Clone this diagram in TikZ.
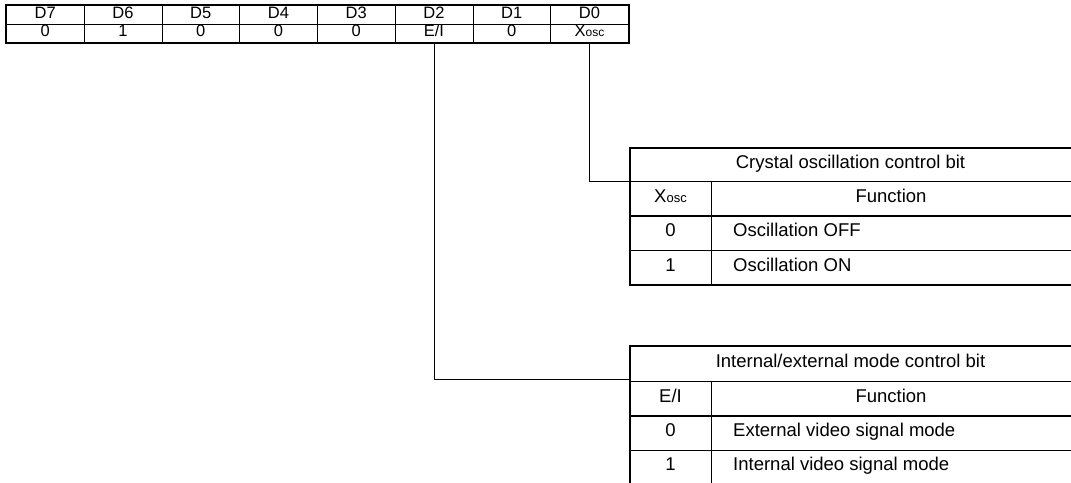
\documentclass[tikz,border=0pt]{standalone}
\usepackage{fontspec}
\setmainfont{Liberation Sans}
\newcommand{\fsz}{\fontsize{18.5}{22}\selectfont}
\newcommand{\rsz}{\fontsize{16.5}{20}\selectfont}
\newcommand{\osc}{X{\fontsize{13}{15}\selectfont osc}}
\newcommand{\rosc}{X{\fontsize{12}{14}\selectfont osc}}
\begin{document}
\begin{tikzpicture}[x=1pt,y=-1pt,
  cell/.style={draw, line width=0.7pt, minimum width=77.75pt, minimum height=18.5pt, inner sep=0pt, anchor=north west, font=\rsz, text height=0.72em, text depth=0pt},
  thickline/.style={line width=1.8pt},
  thinline/.style={line width=0.7pt},
  wire/.style={line width=0.7pt},
  title/.style={inner sep=0pt, minimum width=441pt, minimum height=33pt, anchor=north west},
  txt/.style={inner sep=0pt, font=\fsz, text height=0.72em, text depth=0pt}
]
\useasboundingbox (0,0) rectangle (1071,482);
% register
\foreach \lab [count=\i from 0] in {D7,D6,D5,D4,D3,D2,D1,D0}
  \node[cell] (h\i) at ({6+\i*77.75},5) {\lab};
\foreach \lab [count=\i from 0] in {0,1,0,0,0,E/I,0,\rosc}
  \node[cell] (v\i) at ({6+\i*77.75},23.5) {\lab};
\draw[thickline] (h0.north west) rectangle (v7.south east);

% table 1
\node[title] (t1) at (630,148) {};
\node[txt] (t1title) at (850.5,164.5) {Crystal oscillation control bit};
\draw[thickline] (1071,148) -- (630,148) -- (630,285) -- (1071,285);
\draw[thickline] (630,216) -- (1071,216);
\draw[thinline] (630,181) -- (1071,181);
\draw[thinline] (630,250) -- (1071,250);
\draw[thinline] (711,181) -- (711,285);
\node[txt] (t1h1) at (670.5,198.5) {\osc};
\node[txt] (t1h2) at (891,198.5) {Function};
\node[txt] (t1a1) at (670.5,233) {0};
\node[txt, anchor=west] (t1a2) at (733,233) {Oscillation OFF};
\node[txt] (t1b1) at (670.5,267.5) {1};
\node[txt, anchor=west] (t1b2) at (733,267.5) {Oscillation ON};

% table 2
\node[title] (t2) at (630,346) {};
\node[txt] (t2title) at (850.5,363.5) {Internal/external mode control bit};
\draw[thickline] (1071,346) -- (630,346) -- (630,484);
\draw[thickline] (630,416) -- (1071,416);
\draw[thinline] (630,381) -- (1071,381);
\draw[thinline] (630,450) -- (1071,450);
\draw[thinline] (711,381) -- (711,484);
\node[txt] (t2h1) at (670.5,398.5) {E/I};
\node[txt] (t2h2) at (891,398.5) {Function};
\node[txt] (t2a1) at (670.5,433) {0};
\node[txt, anchor=west] (t2a2) at (733,433) {External video signal mode};
\node[txt] (t2b1) at (670.5,466.5) {1};
\node[txt, anchor=west] (t2b2) at (733,466.5) {Internal video signal mode};

% connectors
\draw[wire] (v7.south) |- (t1.south west);
\draw[wire] (v5.south) |- (t2.south west);
\end{tikzpicture}
\end{document}
